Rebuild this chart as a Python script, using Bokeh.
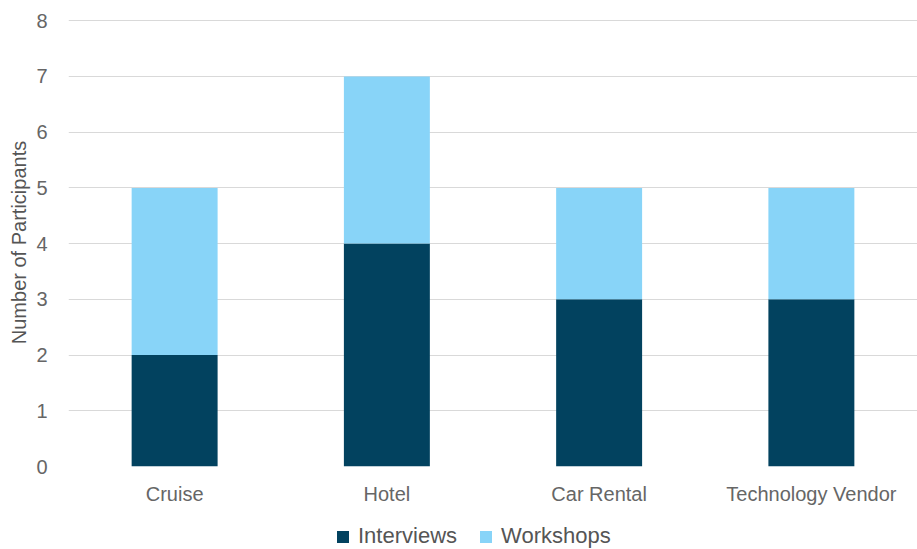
from bokeh.plotting import figure
from bokeh.models import Range1d, FactorRange, FixedTicker, Legend, LegendItem, ColumnDataSource
from bokeh.layouts import column
from bokeh.embed import file_html
from bokeh.resources import INLINE

categories = ["Cruise", "Hotel", "Car Rental", "Technology Vendor"]
interviews = [2, 4, 3, 3]
workshops = [3, 3, 2, 2]
series = ["Interviews", "Workshops"]
y_ticks = [0, 1, 2, 3, 4, 5, 6, 7, 8]

FONT = "Liberation Sans"
COLORS = ["#02425f", "#88d4f8"]
source = ColumnDataSource(dict(cat=categories, Interviews=interviews, Workshops=workshops))

p = figure(x_range=FactorRange(*categories), y_range=Range1d(0, 8.04),
           width=917, height=518, output_backend="svg", toolbar_location=None,
           min_border_left=68, min_border_right=0, min_border_top=18, min_border_bottom=52)

p.vbar_stack(series, x="cat", width=0.405, source=source, color=COLORS, line_color=None)

p.outline_line_color = None
p.xgrid.grid_line_color = None
p.ygrid.grid_line_color = "#d9d9d9"
p.ygrid.grid_line_width = 1.2

p.yaxis.ticker = FixedTicker(ticks=y_ticks)
for ax in (p.xaxis[0], p.yaxis[0]):
    ax.axis_line_color = None
    ax.major_tick_line_color = None
    ax.minor_tick_line_color = None
    ax.major_tick_out = 0
    ax.major_tick_in = 0
    ax.major_label_text_font = FONT
    ax.major_label_text_font_size = "20px"
    ax.major_label_text_color = "#666666"

p.yaxis.major_label_standoff = 21
p.yaxis.axis_label = "Number of Participants"
p.yaxis.axis_label_text_font = FONT
p.yaxis.axis_label_text_font_size = "20px"
p.yaxis.axis_label_text_font_style = "normal"
p.yaxis.axis_label_text_color = "#555555"
p.yaxis.axis_label_standoff = 3
p.xaxis.major_label_standoff = 16

# small strip below the chart that holds the legend
leg = figure(x_range=FactorRange(*categories), y_range=Range1d(100, 101),
             width=917, height=31, output_backend="svg", toolbar_location=None,
             min_border_left=0, min_border_right=0, min_border_top=0, min_border_bottom=0)
lrs = leg.vbar_stack(series, x="cat", width=0.405, source=source, color=COLORS, line_color=None)
leg.axis.visible = False
leg.grid.visible = False
leg.outline_line_color = None

legend = Legend(items=[LegendItem(label=s, renderers=[r]) for s, r in zip(series, lrs)],
                orientation="horizontal", location=(267, 0),
                border_line_color=None, background_fill_alpha=0,
                label_text_font=FONT, label_text_font_size="22px", label_text_color="#555555",
                glyph_width=15, glyph_height=15, spacing=21, padding=0, margin=0,
                label_standoff=8)
leg.add_layout(legend, "center")

open("out.html", "w").write(file_html(column(p, leg, spacing=0), INLINE))
